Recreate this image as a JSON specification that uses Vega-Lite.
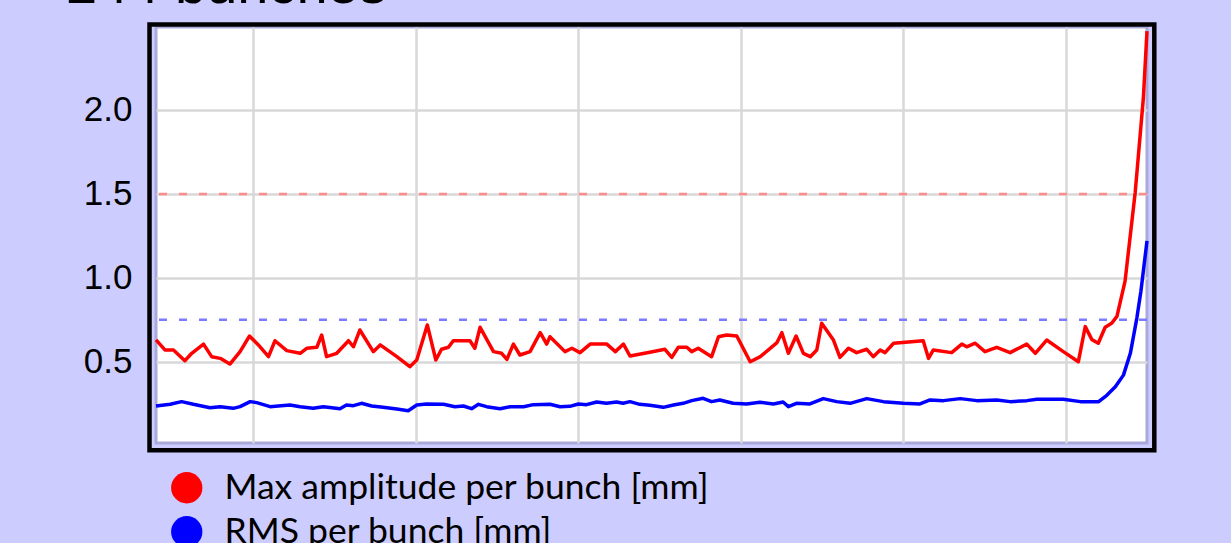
{
  "$schema": "https://vega.github.io/schema/vega-lite/v6.json",
  "width": 991,
  "height": 416,
  "autosize": {"type": "none"},
  "padding": {"left": 156, "top": 27, "right": 84, "bottom": 100},
  "background": "#CCCCFF",
  "config": {"view": {"fill": "white", "stroke": "#A9A9DC", "strokeWidth": 3}},
  "title": {"text": "244 bunches", "anchor": "start", "frame": "group", "dx": -90, "dy": 40, "offset": 3, "font": "Liberation Sans", "fontSize": 56, "fontWeight": "normal", "color": "black", "baseline": "alphabetic"},
  "datasets": {
    "lines": [
      {"series": "Max amplitude per bunch [mm]", "bunch": 0, "value": 0.63},
      {"series": "Max amplitude per bunch [mm]", "bunch": 2.2, "value": 0.57},
      {"series": "Max amplitude per bunch [mm]", "bunch": 4.3, "value": 0.57},
      {"series": "Max amplitude per bunch [mm]", "bunch": 7.1, "value": 0.506},
      {"series": "Max amplitude per bunch [mm]", "bunch": 8.8, "value": 0.55},
      {"series": "Max amplitude per bunch [mm]", "bunch": 11.7, "value": 0.605},
      {"series": "Max amplitude per bunch [mm]", "bunch": 13.7, "value": 0.53},
      {"series": "Max amplitude per bunch [mm]", "bunch": 15.8, "value": 0.52},
      {"series": "Max amplitude per bunch [mm]", "bunch": 18.2, "value": 0.486},
      {"series": "Max amplitude per bunch [mm]", "bunch": 20.7, "value": 0.56},
      {"series": "Max amplitude per bunch [mm]", "bunch": 23.0, "value": 0.653},
      {"series": "Max amplitude per bunch [mm]", "bunch": 25.2, "value": 0.60},
      {"series": "Max amplitude per bunch [mm]", "bunch": 27.7, "value": 0.53},
      {"series": "Max amplitude per bunch [mm]", "bunch": 29.3, "value": 0.625},
      {"series": "Max amplitude per bunch [mm]", "bunch": 32.2, "value": 0.566},
      {"series": "Max amplitude per bunch [mm]", "bunch": 35.5, "value": 0.55},
      {"series": "Max amplitude per bunch [mm]", "bunch": 37.1, "value": 0.58},
      {"series": "Max amplitude per bunch [mm]", "bunch": 39.6, "value": 0.586},
      {"series": "Max amplitude per bunch [mm]", "bunch": 40.8, "value": 0.659},
      {"series": "Max amplitude per bunch [mm]", "bunch": 42.0, "value": 0.53},
      {"series": "Max amplitude per bunch [mm]", "bunch": 44.5, "value": 0.55},
      {"series": "Max amplitude per bunch [mm]", "bunch": 47.4, "value": 0.625},
      {"series": "Max amplitude per bunch [mm]", "bunch": 48.6, "value": 0.589},
      {"series": "Max amplitude per bunch [mm]", "bunch": 50.2, "value": 0.689},
      {"series": "Max amplitude per bunch [mm]", "bunch": 53.5, "value": 0.56},
      {"series": "Max amplitude per bunch [mm]", "bunch": 55.2, "value": 0.60},
      {"series": "Max amplitude per bunch [mm]", "bunch": 59.3, "value": 0.53},
      {"series": "Max amplitude per bunch [mm]", "bunch": 62.5, "value": 0.47},
      {"series": "Max amplitude per bunch [mm]", "bunch": 64.2, "value": 0.51},
      {"series": "Max amplitude per bunch [mm]", "bunch": 66.8, "value": 0.719},
      {"series": "Max amplitude per bunch [mm]", "bunch": 68.9, "value": 0.51},
      {"series": "Max amplitude per bunch [mm]", "bunch": 70.3, "value": 0.574},
      {"series": "Max amplitude per bunch [mm]", "bunch": 72.0, "value": 0.586},
      {"series": "Max amplitude per bunch [mm]", "bunch": 73.2, "value": 0.625},
      {"series": "Max amplitude per bunch [mm]", "bunch": 77.3, "value": 0.625},
      {"series": "Max amplitude per bunch [mm]", "bunch": 78.5, "value": 0.58},
      {"series": "Max amplitude per bunch [mm]", "bunch": 79.8, "value": 0.705},
      {"series": "Max amplitude per bunch [mm]", "bunch": 83.1, "value": 0.56},
      {"series": "Max amplitude per bunch [mm]", "bunch": 85.1, "value": 0.55},
      {"series": "Max amplitude per bunch [mm]", "bunch": 86.4, "value": 0.514},
      {"series": "Max amplitude per bunch [mm]", "bunch": 88.0, "value": 0.605},
      {"series": "Max amplitude per bunch [mm]", "bunch": 89.6, "value": 0.54},
      {"series": "Max amplitude per bunch [mm]", "bunch": 92.1, "value": 0.56},
      {"series": "Max amplitude per bunch [mm]", "bunch": 94.6, "value": 0.673},
      {"series": "Max amplitude per bunch [mm]", "bunch": 96.2, "value": 0.605},
      {"series": "Max amplitude per bunch [mm]", "bunch": 97.0, "value": 0.649},
      {"series": "Max amplitude per bunch [mm]", "bunch": 100.7, "value": 0.56},
      {"series": "Max amplitude per bunch [mm]", "bunch": 102.4, "value": 0.58},
      {"series": "Max amplitude per bunch [mm]", "bunch": 104.4, "value": 0.554},
      {"series": "Max amplitude per bunch [mm]", "bunch": 106.9, "value": 0.605},
      {"series": "Max amplitude per bunch [mm]", "bunch": 111.0, "value": 0.605},
      {"series": "Max amplitude per bunch [mm]", "bunch": 113.1, "value": 0.56},
      {"series": "Max amplitude per bunch [mm]", "bunch": 115.1, "value": 0.605},
      {"series": "Max amplitude per bunch [mm]", "bunch": 116.7, "value": 0.534},
      {"series": "Max amplitude per bunch [mm]", "bunch": 121.6, "value": 0.556},
      {"series": "Max amplitude per bunch [mm]", "bunch": 125.3, "value": 0.574},
      {"series": "Max amplitude per bunch [mm]", "bunch": 127.0, "value": 0.526},
      {"series": "Max amplitude per bunch [mm]", "bunch": 128.6, "value": 0.586},
      {"series": "Max amplitude per bunch [mm]", "bunch": 130.7, "value": 0.586},
      {"series": "Max amplitude per bunch [mm]", "bunch": 131.9, "value": 0.56},
      {"series": "Max amplitude per bunch [mm]", "bunch": 133.5, "value": 0.58},
      {"series": "Max amplitude per bunch [mm]", "bunch": 136.8, "value": 0.53},
      {"series": "Max amplitude per bunch [mm]", "bunch": 138.5, "value": 0.649},
      {"series": "Max amplitude per bunch [mm]", "bunch": 140.5, "value": 0.659},
      {"series": "Max amplitude per bunch [mm]", "bunch": 143.0, "value": 0.653},
      {"series": "Max amplitude per bunch [mm]", "bunch": 146.3, "value": 0.50},
      {"series": "Max amplitude per bunch [mm]", "bunch": 148.8, "value": 0.53},
      {"series": "Max amplitude per bunch [mm]", "bunch": 152.9, "value": 0.614},
      {"series": "Max amplitude per bunch [mm]", "bunch": 154.1, "value": 0.673},
      {"series": "Max amplitude per bunch [mm]", "bunch": 155.7, "value": 0.55},
      {"series": "Max amplitude per bunch [mm]", "bunch": 157.6, "value": 0.653},
      {"series": "Max amplitude per bunch [mm]", "bunch": 159.4, "value": 0.55},
      {"series": "Max amplitude per bunch [mm]", "bunch": 161.1, "value": 0.53},
      {"series": "Max amplitude per bunch [mm]", "bunch": 162.7, "value": 0.57},
      {"series": "Max amplitude per bunch [mm]", "bunch": 163.9, "value": 0.729},
      {"series": "Max amplitude per bunch [mm]", "bunch": 166.8, "value": 0.629},
      {"series": "Max amplitude per bunch [mm]", "bunch": 168.4, "value": 0.526},
      {"series": "Max amplitude per bunch [mm]", "bunch": 170.5, "value": 0.58},
      {"series": "Max amplitude per bunch [mm]", "bunch": 172.5, "value": 0.554},
      {"series": "Max amplitude per bunch [mm]", "bunch": 175.0, "value": 0.574},
      {"series": "Max amplitude per bunch [mm]", "bunch": 176.6, "value": 0.53},
      {"series": "Max amplitude per bunch [mm]", "bunch": 178.3, "value": 0.57},
      {"series": "Max amplitude per bunch [mm]", "bunch": 179.5, "value": 0.554},
      {"series": "Max amplitude per bunch [mm]", "bunch": 181.6, "value": 0.61},
      {"series": "Max amplitude per bunch [mm]", "bunch": 188.9, "value": 0.625},
      {"series": "Max amplitude per bunch [mm]", "bunch": 190.2, "value": 0.52},
      {"series": "Max amplitude per bunch [mm]", "bunch": 191.4, "value": 0.57},
      {"series": "Max amplitude per bunch [mm]", "bunch": 195.9, "value": 0.554},
      {"series": "Max amplitude per bunch [mm]", "bunch": 198.4, "value": 0.605},
      {"series": "Max amplitude per bunch [mm]", "bunch": 199.6, "value": 0.589},
      {"series": "Max amplitude per bunch [mm]", "bunch": 201.7, "value": 0.61},
      {"series": "Max amplitude per bunch [mm]", "bunch": 204.1, "value": 0.56},
      {"series": "Max amplitude per bunch [mm]", "bunch": 207.0, "value": 0.586},
      {"series": "Max amplitude per bunch [mm]", "bunch": 210.3, "value": 0.554},
      {"series": "Max amplitude per bunch [mm]", "bunch": 214.4, "value": 0.605},
      {"series": "Max amplitude per bunch [mm]", "bunch": 216.5, "value": 0.55},
      {"series": "Max amplitude per bunch [mm]", "bunch": 219.3, "value": 0.629},
      {"series": "Max amplitude per bunch [mm]", "bunch": 223.4, "value": 0.56},
      {"series": "Max amplitude per bunch [mm]", "bunch": 227.1, "value": 0.50},
      {"series": "Max amplitude per bunch [mm]", "bunch": 228.8, "value": 0.709},
      {"series": "Max amplitude per bunch [mm]", "bunch": 230.4, "value": 0.633},
      {"series": "Max amplitude per bunch [mm]", "bunch": 232.0, "value": 0.61},
      {"series": "Max amplitude per bunch [mm]", "bunch": 233.7, "value": 0.705},
      {"series": "Max amplitude per bunch [mm]", "bunch": 235.3, "value": 0.729},
      {"series": "Max amplitude per bunch [mm]", "bunch": 236.6, "value": 0.77},
      {"series": "Max amplitude per bunch [mm]", "bunch": 238.6, "value": 0.98},
      {"series": "Max amplitude per bunch [mm]", "bunch": 241.1, "value": 1.51},
      {"series": "Max amplitude per bunch [mm]", "bunch": 243.1, "value": 2.07},
      {"series": "Max amplitude per bunch [mm]", "bunch": 244.0, "value": 2.47},
      {"series": "RMS per bunch [mm]", "bunch": 0, "value": 0.236},
      {"series": "RMS per bunch [mm]", "bunch": 3.5, "value": 0.246},
      {"series": "RMS per bunch [mm]", "bunch": 6.3, "value": 0.262},
      {"series": "RMS per bunch [mm]", "bunch": 9.2, "value": 0.246},
      {"series": "RMS per bunch [mm]", "bunch": 13.3, "value": 0.226},
      {"series": "RMS per bunch [mm]", "bunch": 15.8, "value": 0.232},
      {"series": "RMS per bunch [mm]", "bunch": 19.0, "value": 0.222},
      {"series": "RMS per bunch [mm]", "bunch": 20.7, "value": 0.232},
      {"series": "RMS per bunch [mm]", "bunch": 23.2, "value": 0.262},
      {"series": "RMS per bunch [mm]", "bunch": 24.8, "value": 0.256},
      {"series": "RMS per bunch [mm]", "bunch": 28.1, "value": 0.232},
      {"series": "RMS per bunch [mm]", "bunch": 30.1, "value": 0.236},
      {"series": "RMS per bunch [mm]", "bunch": 33.0, "value": 0.242},
      {"series": "RMS per bunch [mm]", "bunch": 35.5, "value": 0.232},
      {"series": "RMS per bunch [mm]", "bunch": 38.7, "value": 0.222},
      {"series": "RMS per bunch [mm]", "bunch": 41.2, "value": 0.232},
      {"series": "RMS per bunch [mm]", "bunch": 43.3, "value": 0.226},
      {"series": "RMS per bunch [mm]", "bunch": 45.3, "value": 0.22},
      {"series": "RMS per bunch [mm]", "bunch": 46.9, "value": 0.242},
      {"series": "RMS per bunch [mm]", "bunch": 48.6, "value": 0.238},
      {"series": "RMS per bunch [mm]", "bunch": 50.6, "value": 0.252},
      {"series": "RMS per bunch [mm]", "bunch": 53.1, "value": 0.236},
      {"series": "RMS per bunch [mm]", "bunch": 55.9, "value": 0.228},
      {"series": "RMS per bunch [mm]", "bunch": 59.3, "value": 0.218},
      {"series": "RMS per bunch [mm]", "bunch": 62.1, "value": 0.208},
      {"series": "RMS per bunch [mm]", "bunch": 64.2, "value": 0.242},
      {"series": "RMS per bunch [mm]", "bunch": 66.6, "value": 0.248},
      {"series": "RMS per bunch [mm]", "bunch": 70.8, "value": 0.246},
      {"series": "RMS per bunch [mm]", "bunch": 73.6, "value": 0.232},
      {"series": "RMS per bunch [mm]", "bunch": 75.7, "value": 0.236},
      {"series": "RMS per bunch [mm]", "bunch": 77.7, "value": 0.22},
      {"series": "RMS per bunch [mm]", "bunch": 79.4, "value": 0.246},
      {"series": "RMS per bunch [mm]", "bunch": 81.4, "value": 0.232},
      {"series": "RMS per bunch [mm]", "bunch": 84.7, "value": 0.22},
      {"series": "RMS per bunch [mm]", "bunch": 87.2, "value": 0.232},
      {"series": "RMS per bunch [mm]", "bunch": 90.5, "value": 0.232},
      {"series": "RMS per bunch [mm]", "bunch": 92.9, "value": 0.244},
      {"series": "RMS per bunch [mm]", "bunch": 97.0, "value": 0.246},
      {"series": "RMS per bunch [mm]", "bunch": 99.5, "value": 0.232},
      {"series": "RMS per bunch [mm]", "bunch": 101.9, "value": 0.234},
      {"series": "RMS per bunch [mm]", "bunch": 104.0, "value": 0.248},
      {"series": "RMS per bunch [mm]", "bunch": 106.0, "value": 0.244},
      {"series": "RMS per bunch [mm]", "bunch": 108.5, "value": 0.26},
      {"series": "RMS per bunch [mm]", "bunch": 110.9, "value": 0.252},
      {"series": "RMS per bunch [mm]", "bunch": 113.4, "value": 0.26},
      {"series": "RMS per bunch [mm]", "bunch": 115.0, "value": 0.252},
      {"series": "RMS per bunch [mm]", "bunch": 116.7, "value": 0.262},
      {"series": "RMS per bunch [mm]", "bunch": 119.1, "value": 0.246},
      {"series": "RMS per bunch [mm]", "bunch": 121.6, "value": 0.24},
      {"series": "RMS per bunch [mm]", "bunch": 124.9, "value": 0.228},
      {"series": "RMS per bunch [mm]", "bunch": 127.4, "value": 0.242},
      {"series": "RMS per bunch [mm]", "bunch": 129.8, "value": 0.252},
      {"series": "RMS per bunch [mm]", "bunch": 131.9, "value": 0.268},
      {"series": "RMS per bunch [mm]", "bunch": 134.7, "value": 0.282},
      {"series": "RMS per bunch [mm]", "bunch": 136.8, "value": 0.262},
      {"series": "RMS per bunch [mm]", "bunch": 138.8, "value": 0.272},
      {"series": "RMS per bunch [mm]", "bunch": 142.1, "value": 0.252},
      {"series": "RMS per bunch [mm]", "bunch": 145.4, "value": 0.248},
      {"series": "RMS per bunch [mm]", "bunch": 148.7, "value": 0.258},
      {"series": "RMS per bunch [mm]", "bunch": 152.0, "value": 0.248},
      {"series": "RMS per bunch [mm]", "bunch": 154.4, "value": 0.26},
      {"series": "RMS per bunch [mm]", "bunch": 155.7, "value": 0.232},
      {"series": "RMS per bunch [mm]", "bunch": 157.7, "value": 0.252},
      {"series": "RMS per bunch [mm]", "bunch": 161.0, "value": 0.248},
      {"series": "RMS per bunch [mm]", "bunch": 164.3, "value": 0.28},
      {"series": "RMS per bunch [mm]", "bunch": 167.6, "value": 0.262},
      {"series": "RMS per bunch [mm]", "bunch": 170.9, "value": 0.252},
      {"series": "RMS per bunch [mm]", "bunch": 175.0, "value": 0.28},
      {"series": "RMS per bunch [mm]", "bunch": 179.1, "value": 0.262},
      {"series": "RMS per bunch [mm]", "bunch": 184.0, "value": 0.252},
      {"series": "RMS per bunch [mm]", "bunch": 188.1, "value": 0.248},
      {"series": "RMS per bunch [mm]", "bunch": 190.6, "value": 0.272},
      {"series": "RMS per bunch [mm]", "bunch": 193.9, "value": 0.268},
      {"series": "RMS per bunch [mm]", "bunch": 198.0, "value": 0.28},
      {"series": "RMS per bunch [mm]", "bunch": 202.1, "value": 0.268},
      {"series": "RMS per bunch [mm]", "bunch": 207.0, "value": 0.272},
      {"series": "RMS per bunch [mm]", "bunch": 210.3, "value": 0.262},
      {"series": "RMS per bunch [mm]", "bunch": 214.4, "value": 0.268},
      {"series": "RMS per bunch [mm]", "bunch": 216.9, "value": 0.276},
      {"series": "RMS per bunch [mm]", "bunch": 223.4, "value": 0.276},
      {"series": "RMS per bunch [mm]", "bunch": 227.6, "value": 0.262},
      {"series": "RMS per bunch [mm]", "bunch": 232.1, "value": 0.262},
      {"series": "RMS per bunch [mm]", "bunch": 234.1, "value": 0.30},
      {"series": "RMS per bunch [mm]", "bunch": 236.2, "value": 0.35},
      {"series": "RMS per bunch [mm]", "bunch": 238.2, "value": 0.42},
      {"series": "RMS per bunch [mm]", "bunch": 239.9, "value": 0.55},
      {"series": "RMS per bunch [mm]", "bunch": 241.5, "value": 0.76},
      {"series": "RMS per bunch [mm]", "bunch": 242.5, "value": 0.92},
      {"series": "RMS per bunch [mm]", "bunch": 244.0, "value": 1.22}
    ]
  },
  "layer": [
    {
      "data": {"values": [{"threshold": 1.5}]},
      "mark": {"type": "rule", "color": "#FF8A8A", "strokeWidth": 2.5, "strokeDash": [8, 12]},
      "encoding": {
        "y": {"field": "threshold", "type": "quantitative", "scale": {"domain": [0.0155, 2.4946], "nice": false, "zero": false},
              "axis": {"values": [0.5, 1, 1.5, 2], "format": ".1f", "title": null, "labelFont": "Liberation Sans", "labelFontSize": 35, "labelColor": "black", "labelPadding": 24, "ticks": false, "domain": false, "grid": true, "gridColor": "#D8D8D8", "gridWidth": 2.5}}
      }
    },
    {
      "data": {"values": [{"threshold": 0.75}]},
      "mark": {"type": "rule", "color": "#7B7BFF", "strokeWidth": 2.5, "strokeDash": [8, 12]},
      "encoding": {
        "y": {"field": "threshold", "type": "quantitative",
              "axis": {"values": [0.5, 1, 1.5, 2], "format": ".1f", "title": null, "labelFont": "Liberation Sans", "labelFontSize": 35, "labelColor": "black", "labelPadding": 24, "ticks": false, "domain": false, "grid": true, "gridColor": "#D8D8D8", "gridWidth": 2.5}}
      }
    },
    {
      "data": {"name": "lines"},
      "mark": {"type": "line", "strokeWidth": 3.5, "strokeJoin": "round"},
      "encoding": {
        "x": {"field": "bunch", "type": "quantitative", "scale": {"domain": [0, 244], "nice": false, "zero": false},
              "axis": {"values": [24, 64, 104, 144, 184, 224], "labels": false, "ticks": false, "domain": false, "title": null, "grid": true, "gridColor": "#D8D8D8", "gridWidth": 2.5}},
        "y": {"field": "value", "type": "quantitative",
              "axis": {"values": [0.5, 1, 1.5, 2], "format": ".1f", "title": null, "labelFont": "Liberation Sans", "labelFontSize": 35, "labelColor": "black", "labelPadding": 24, "ticks": false, "domain": false, "grid": true, "gridColor": "#D8D8D8", "gridWidth": 2.5}},
        "color": {"field": "series", "type": "nominal",
                  "scale": {"domain": ["Max amplitude per bunch [mm]", "RMS per bunch [mm]"], "range": ["#FF0000", "#0000FF"]},
                  "legend": {"orient": "none", "legendX": 13, "legendY": 443, "title": null, "symbolType": "circle", "symbolSize": 980, "symbolStrokeWidth": 0, "labelFont": "Lato", "labelFontSize": 35.5, "labelColor": "black", "labelOffset": 20, "rowPadding": 7, "padding": 0, "labelLimit": 1000,
                             "encode": {"symbols": {"update": {"fill": {"scale": "color", "field": "value"}, "fillOpacity": {"value": 1}, "opacity": {"value": 1}}}}}}
      }
    },
    {
      "data": {"values": [{}]},
      "mark": {"type": "rect", "fill": null, "stroke": "black", "strokeWidth": 4.5},
      "encoding": {
        "x": {"datum": -1.6, "type": "quantitative"},
        "x2": {"datum": 245.8},
        "y": {"datum": -0.0274, "type": "quantitative"},
        "y2": {"datum": 2.5095}
      }
    }
  ]
}
